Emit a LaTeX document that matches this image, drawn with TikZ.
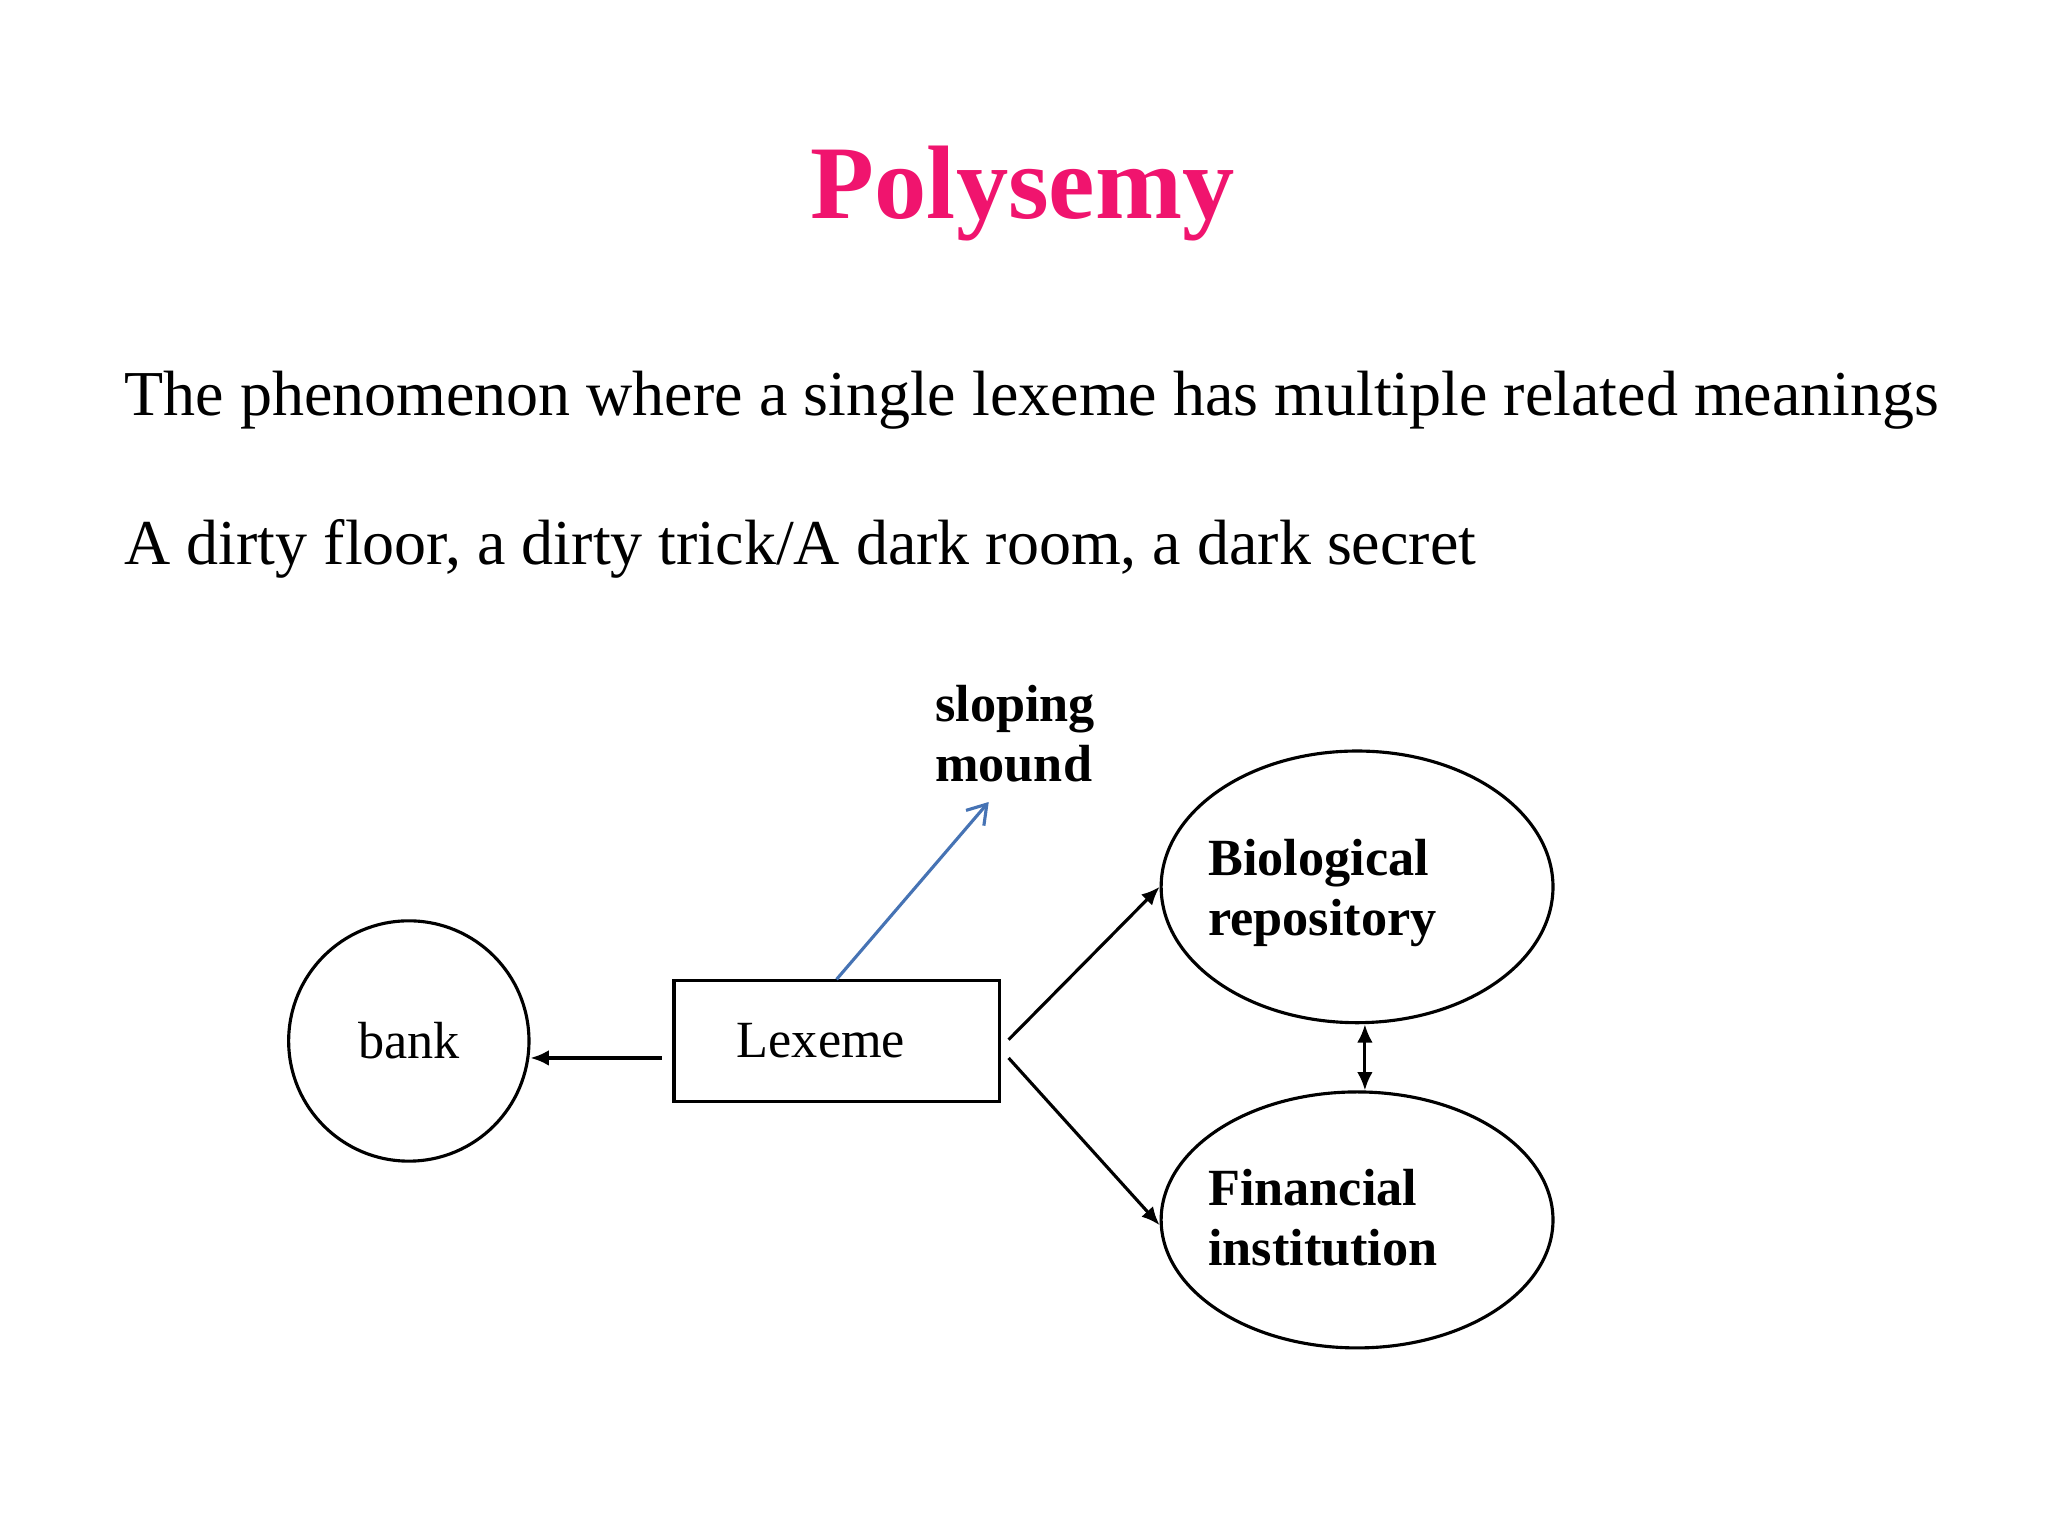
\documentclass[tikz,border=0pt]{standalone}
\usepackage{fontspec}
\setmainfont{Liberation Serif}
\usetikzlibrary{arrows.meta,shapes.geometric}
\definecolor{titlepink}{RGB}{240,20,110}
\definecolor{arrowblue}{RGB}{70,115,180}
\begin{document}
\begin{tikzpicture}[x=0.5pt,y=-0.5pt,
  lbl/.style={font=\fontsize{20}{23}\selectfont\bfseries,align=left},
  con/.style={draw=black,line width=1.2pt,-{Latex[length=7pt,width=6pt]}},
  shp/.style={draw=black,line width=1.2pt}]
\useasboundingbox (0,0) rectangle (1568,1176);
\node[font=\fontsize{40}{44}\selectfont\bfseries,text=titlepink] (title) at (783,148) {Polysemy};
\node[anchor=base west,inner sep=0,font=\fontsize{24.5}{28}\selectfont] (l1) at (95,318) {The phenomenon where a single lexeme has multiple related meanings};
\node[anchor=base west,inner sep=0,font=\fontsize{24.5}{28}\selectfont] (l2) at (95,432) {A dirty floor, a dirty trick/A dark room, a dark secret};
\node[shp,circle,minimum size=184*0.5pt,font=\fontsize{20}{23}\selectfont] (bank) at (313,797) {bank};
\node[shp,rectangle,minimum width=249*0.5pt,minimum height=92*0.5pt,font=\fontsize{20}{23}\selectfont] (lex) at (640.5,797) {\hspace*{-12pt}Lexeme};
\node[shp,ellipse,minimum width=300*0.5pt,minimum height=208*0.5pt] (bio) at (1039,679) {};
\node[lbl,anchor=west] (biot) at (918,684) {Biological\\repository};
\node[shp,ellipse,minimum width=300*0.5pt,minimum height=196*0.5pt] (fin) at (1039,934) {};
\node[lbl,anchor=west] (fint) at (918,932) {Financial\\institution};
\node[lbl,anchor=west] (slope) at (709,562) {sloping\\mound};
\coordinate (bt) at (757,614);
\draw[con] ([yshift=-6.5pt]lex.west) ++(-4pt,0) -- (bank.east |- 0,810);
\draw[con] ([xshift=3pt,yshift=0.5pt]lex.east) -- (bio.west);
\draw[con] ([xshift=3pt,yshift=-6.5pt]lex.east) -- ([yshift=-2pt]fin.west);
\draw[draw=arrowblue,line width=1.2pt,-{Straight Barb[length=7pt,width=9pt]}] (lex.north) -- (bt);
\draw[con,{Latex[length=7pt,width=6pt]}-{Latex[length=7pt,width=6pt]}] ([xshift=3pt]bio.south) -- ([xshift=3pt]fin.north);
\end{tikzpicture}
\end{document}
